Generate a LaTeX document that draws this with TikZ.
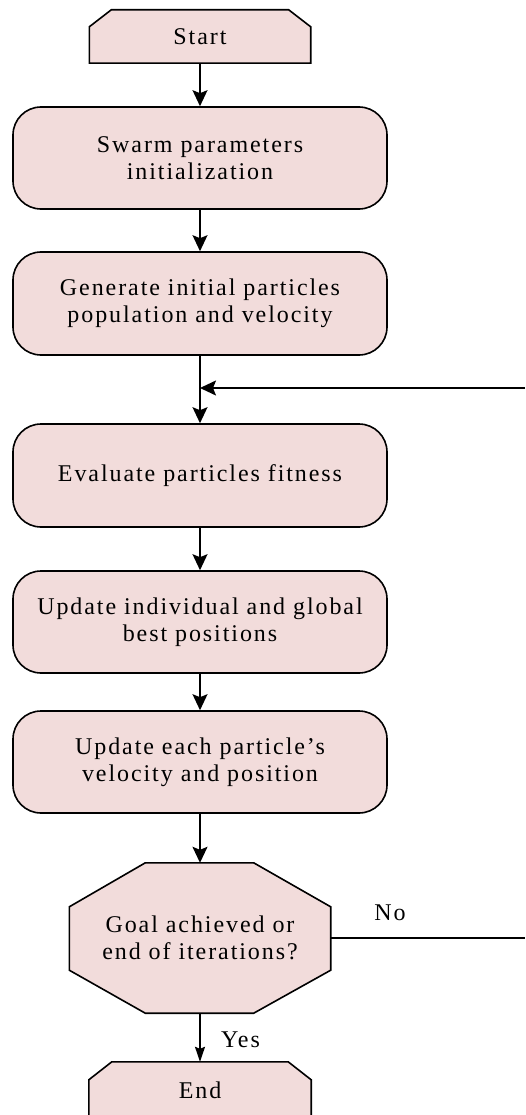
\documentclass[tikz,border=0pt]{standalone}
\usepackage{fontspec}
\setmainfont{Liberation Serif}[LetterSpace=8]
\usetikzlibrary{arrows.meta,backgrounds}
\definecolor{boxfill}{RGB}{242,220,219}
\begin{document}
\begin{tikzpicture}[x=1pt,y=-1pt,
  lbl/.style={font=\fontsize{24}{27}\selectfont, align=center, text=black, inner sep=0pt},
  rbox/.style={lbl, draw, line width=1.6pt, fill=boxfill, rounded corners=28pt,
    minimum width=374pt, minimum height=102pt},
  plain/.style={lbl, minimum width=#1},
  outline/.style={draw, line width=1.6pt, fill=boxfill, line join=miter},
  conn/.style={line width=1.6pt},
  arr/.style={conn, -{Stealth[length=16pt,width=15pt,inset=3pt]}},
  thinarr/.style={conn, -{Stealth[length=15pt,width=10pt,inset=2pt]}}]
\useasboundingbox (0,0) rectangle (525,1115);

% nodes
\node[plain=221pt, minimum height=53pt] (start) at (200,36.5) {Start};
\node[rbox] (swarm) at (200,158) {Swarm parameters\\initialization};
\node[rbox, minimum height=103pt] (gen) at (200,303.5) {Generate initial particles\\population and velocity};
\node[rbox, minimum height=103pt] (eval) at (200,475.5) {Evaluate particles fitness};
\node[rbox] (upd1) at (200,622) {Update individual and global\\best positions};
\node[rbox] (upd2) at (200,762) {Update each particle’s\\velocity and position};
\node[plain=261pt, minimum height=150pt] (goal) at (200,938) {Goal achieved or\\end of iterations?};
\node[plain=222pt, minimum height=56pt] (endn) at (200,1090) {End};
\node[lbl] (no) at (390,913) {No};
\node[lbl] (yes) at (240.5,1040) {Yes};

\coordinate (rt) at (525,388);
\coordinate (rb) at (525,938);

% shapes behind text
\begin{scope}[on background layer]
\path[outline] ([xshift=22pt]start.north west) -- ([xshift=-22pt]start.north east)
  -- ([yshift=-17pt]start.north east) -- (start.south east) -- (start.south west)
  -- ([yshift=-17pt]start.north west) -- cycle;
\path[outline] ([xshift=76pt]goal.north west) -- ([xshift=-77pt]goal.north east)
  -- ([yshift=-44pt]goal.north east) -- ([yshift=43pt]goal.south east)
  -- ([xshift=-77pt]goal.south east) -- ([xshift=76pt]goal.south west)
  -- ([yshift=43pt]goal.south west) -- ([yshift=-44pt]goal.north west) -- cycle;
\path[outline] ([xshift=23pt]endn.north west) -- ([xshift=-23pt]endn.north east)
  -- ([yshift=-18pt]endn.north east) -- (endn.south east) -- (endn.south west)
  -- ([yshift=-18pt]endn.north west) -- cycle;
\end{scope}

% connectors
\draw[arr] (start) -- (swarm);
\draw[arr] (swarm) -- (gen);
\draw[arr] (gen) -- (eval);
\draw[arr] (eval) -- (upd1);
\draw[arr] (upd1) -- (upd2);
\draw[arr] (upd2) -- (goal);
\draw[thinarr] (goal) -- (endn);
\draw[conn] (goal.east) -- (rb);
\draw[arr] (rt) -- (rt -| eval.north);
\end{tikzpicture}
\end{document}
